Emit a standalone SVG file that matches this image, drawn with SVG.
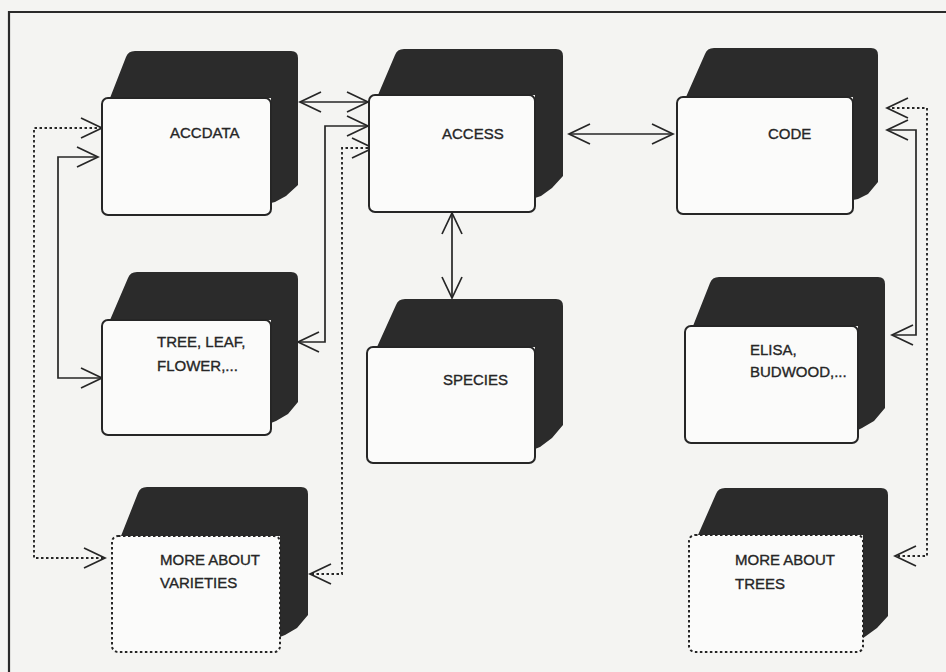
<svg xmlns="http://www.w3.org/2000/svg" width="946" height="672" viewBox="0 0 946 672">
<style>
.bg{fill:#f4f4f2}
.frame{fill:none;stroke:#2a2a2a;stroke-width:2.2}
.dark{fill:#2b2b2b}
.card{fill:#fbfbfa;stroke:#262626;stroke-width:2}
.dcard{fill:#fbfbfa;stroke:#262626;stroke-width:2;stroke-dasharray:2.5 2.5}
.lbl{font-family:"Liberation Sans",Arial,sans-serif;font-size:15px;fill:#262626;stroke:#262626;stroke-width:0.35}
.ln{fill:none;stroke:#262626;stroke-width:1.7;marker-start:url(#ah);marker-end:url(#ah)}
.dot{fill:none;stroke:#262626;stroke-width:1.9;stroke-dasharray:2.5 2.5;marker-start:url(#ah);marker-end:url(#ah)}
</style>
<defs>
<marker id="ah" viewBox="-24 -12 26 24" refX="0" refY="0" markerWidth="26" markerHeight="24" markerUnits="userSpaceOnUse" orient="auto-start-reverse">
<path d="M-21,-10 L0,0 L-21,10" fill="none" stroke="#262626" stroke-width="1.7"/>
</marker>
</defs>
<rect class="bg" x="0" y="0" width="946" height="672"/>
<path class="frame" d="M9,672 L9,12 L946,12"/>

<g id="connectors">
<path class="ln" d="M300,102 L368,102"/>
<path class="ln" d="M368,126 L325,126 L325,342 L298,342"/>
<path class="ln" d="M98,157 L58,157 L58,378 L102,378"/>
<path class="dot" d="M102,128 L34,128 L34,558 L105,558"/>
<path class="dot" d="M373,148 L342,148 L342,574 L310,574"/>
<path class="ln" d="M569,134 L673,134"/>
<path class="ln" d="M452,213 L452,298"/>
<path class="ln" d="M887,130 L916,130 L916,335 L892,335"/>
<path class="dot" d="M887,108 L927,108 L927,556 L895,556"/>
</g>

<g id="accdata">
<path class="dark" d="M110,98 L126,57 Q128,51 135,51 L291,51 Q298,51 298,58 L298,185 L286,196 L275,202 L271,203 L271,98 Z"/>
<rect class="card" x="102" y="98" width="169" height="117" rx="6"/>
<text class="lbl" x="170" y="138">ACCDATA</text>
</g>

<g id="access">
<path class="dark" d="M378,95 L395,55 Q397,49 404,49 L556,49 Q563,49 563,56 L563,176 L552,188 L541,196 L535,198 L535,95 Z"/>
<rect class="card" x="369" y="95" width="166" height="117" rx="6"/>
<text class="lbl" x="442" y="139">ACCESS</text>
</g>

<g id="code">
<path class="dark" d="M686,97 L705,54 Q707,48 714,48 L871,48 Q878,48 878,55 L878,182 L868,194 L858,199 L853,200 L853,97 Z"/>
<rect class="card" x="677" y="97" width="176" height="117" rx="6"/>
<text class="lbl" x="768" y="139">CODE</text>
</g>

<g id="tree">
<path class="dark" d="M110,320 L128,278 Q130,272 137,272 L291,272 Q298,272 298,279 L298,402 L288,414 L276,421 L271,423 L271,320 Z"/>
<rect class="card" x="102" y="320" width="169" height="115" rx="6"/>
<text class="lbl" x="157" y="347">TREE, LEAF,</text>
<text class="lbl" x="157" y="371">FLOWER,...</text>
</g>

<g id="species">
<path class="dark" d="M377,347 L396,305 Q398,299 405,299 L556,299 Q563,299 563,306 L563,425 L552,438 L540,447 L535,449 L535,347 Z"/>
<rect class="card" x="367" y="347" width="168" height="116" rx="6"/>
<text class="lbl" x="443" y="385">SPECIES</text>
</g>

<g id="elisa">
<path class="dark" d="M693,326 L710,283 Q712,277 719,277 L878,277 Q885,277 885,284 L885,408 L874,421 L862,428 L858,430 L858,326 Z"/>
<rect class="card" x="685" y="326" width="173" height="117" rx="6"/>
<text class="lbl" x="750" y="355">ELISA,</text>
<text class="lbl" x="750" y="377">BUDWOOD,...</text>
</g>

<g id="varieties">
<path class="dark" d="M121,536 L138,493 Q140,487 147,487 L301,487 Q308,487 308,494 L308,615 L297,628 L285,635 L280,637 L280,536 Z"/>
<rect class="dcard" x="112" y="536" width="168" height="116" rx="6"/>
<text class="lbl" x="160" y="565">MORE ABOUT</text>
<text class="lbl" x="160" y="588">VARIETIES</text>
</g>

<g id="trees">
<path class="dark" d="M698,535 L716,494 Q718,488 725,488 L881,488 Q888,488 888,495 L888,616 L877,628 L866,636 L863,638 L863,535 Z"/>
<rect class="dcard" x="689" y="535" width="174" height="117" rx="6"/>
<text class="lbl" x="735" y="565">MORE ABOUT</text>
<text class="lbl" x="735" y="589">TREES</text>
</g>
</svg>
